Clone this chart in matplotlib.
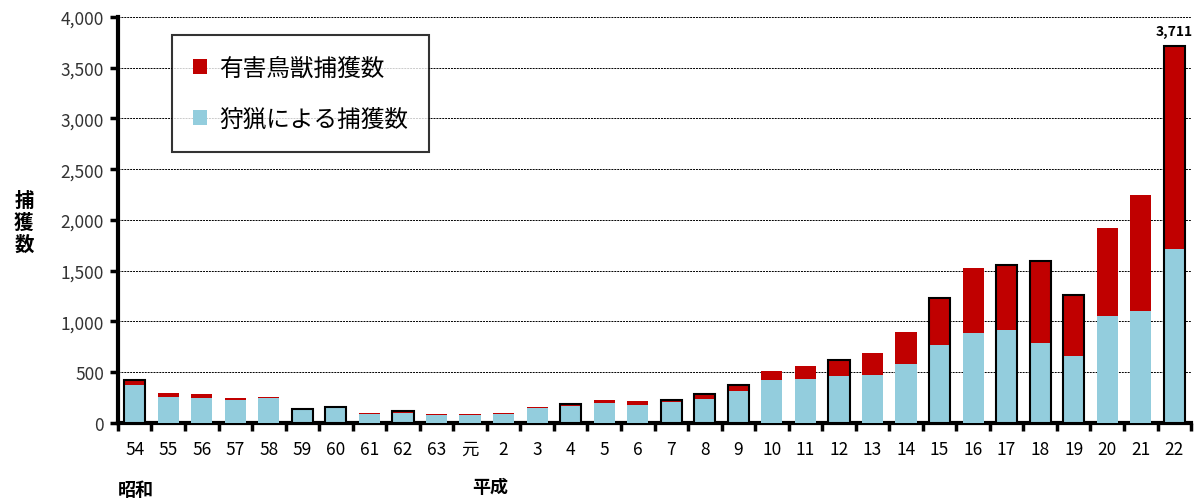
import numpy as np
import matplotlib
matplotlib.use("Agg")
import matplotlib.pyplot as plt

plt.rcParams['font.family'] = ['Noto Sans CJK JP', 'DejaVu Sans']

years = ["54", "55", "56", "57", "58", "59", "60", "61", "62", "63", "元",
         "2", "3", "4", "5", "6", "7", "8", "9", "10", "11", "12", "13", "14",
         "15", "16", "17", "18", "19", "20", "21", "22"]
# 狩猟による捕獲数
hunting = [374, 260, 250, 224, 250, 130, 150, 90, 96, 80, 80,
           90, 145, 172, 200, 182, 203, 240, 312, 427, 437, 463, 476, 584,
           772, 890, 913, 785, 657, 1051, 1100, 1714]
# 合計 (狩猟 + 有害鳥獣捕獲)
total = [425, 300, 283, 243, 260, 135, 155, 96, 115, 86, 86,
         96, 155, 190, 226, 213, 226, 283, 371, 509, 558, 617, 686, 893,
         1228, 1524, 1557, 1593, 1258, 1921, 2246, 3711]
pest = [t - h for t, h in zip(total, hunting)]

RED, BLUE = "#c00000", "#93cddd"
outlined = {"54", "59", "60", "62", "4", "7", "8", "9", "12", "15", "17", "18", "19", "22"}

fig = plt.figure(figsize=(11.95, 5.02), dpi=100)
ax = fig.add_axes([0.0987, 0.1554, 0.898, 0.8088])

x = np.arange(len(years))
w = 0.63
ax.bar(x, hunting, w, color=BLUE, zorder=3, label="狩猟による捕獲数")
ax.bar(x, pest, w, bottom=hunting, color=RED, zorder=3, label="有害鳥獣捕獲数")
for xi, yr, t in zip(x, years, total):
    if yr in outlined:
        ax.bar(xi, t, w, fill=False, edgecolor="black", lw=1.5, zorder=4)

ax.set_xlim(-0.5, len(years) - 0.5)
ax.set_ylim(0, 4000)
ax.set_yticks(np.arange(0, 4001, 500))
ax.set_yticklabels([f"{v:,}" for v in range(0, 4001, 500)], fontsize=12.5, color="#333333")
ax.yaxis.grid(True, ls=(0, (2, 1)), color="black", lw=0.7, zorder=0)
ax.tick_params(axis="y", direction="out", length=6, width=2.5, pad=4)

ax.set_xticks(x)
ax.set_xticklabels(years, fontsize=12.5)
ax.tick_params(axis="x", length=0, pad=12)
ax.set_xticks(np.arange(-0.5, len(years)), minor=True)
ax.tick_params(axis="x", which="minor", direction="out", length=6, width=2.5)

for s in ["top", "right"]:
    ax.spines[s].set_visible(False)
ax.spines["left"].set_linewidth(3)
ax.spines["bottom"].set_linewidth(3)

ax.annotate(f"{total[-1]:,}", (x[-1], total[-1]), xytext=(0, 6),
            textcoords="offset points", ha="center", va="bottom",
            fontsize=10, fontweight="bold")

fig.text(0.02, 0.555, "捕\n獲\n数", fontsize=14, fontweight="bold",
         ha="center", va="center", linespacing=1.2)
fig.text(0.114, 0.012, "昭和", fontsize=13, fontweight="bold", ha="center")
fig.text(0.41, 0.018, "平成", fontsize=13, fontweight="bold", ha="center")

h, l = ax.get_legend_handles_labels()
leg = ax.legend(h[::-1], l[::-1], loc="upper left", bbox_to_anchor=(0.05, 0.955),
                fontsize=17, frameon=True, fancybox=False, shadow=False,
                handlelength=0.6, handleheight=0.6, labelspacing=1.2,
                borderpad=0.9, handletextpad=0.5, borderaxespad=0)
leg.get_frame().set_edgecolor("black")
leg.get_frame().set_linewidth(1.5)
leg.set_zorder(5)

fig.savefig("out.png", dpi=100)
